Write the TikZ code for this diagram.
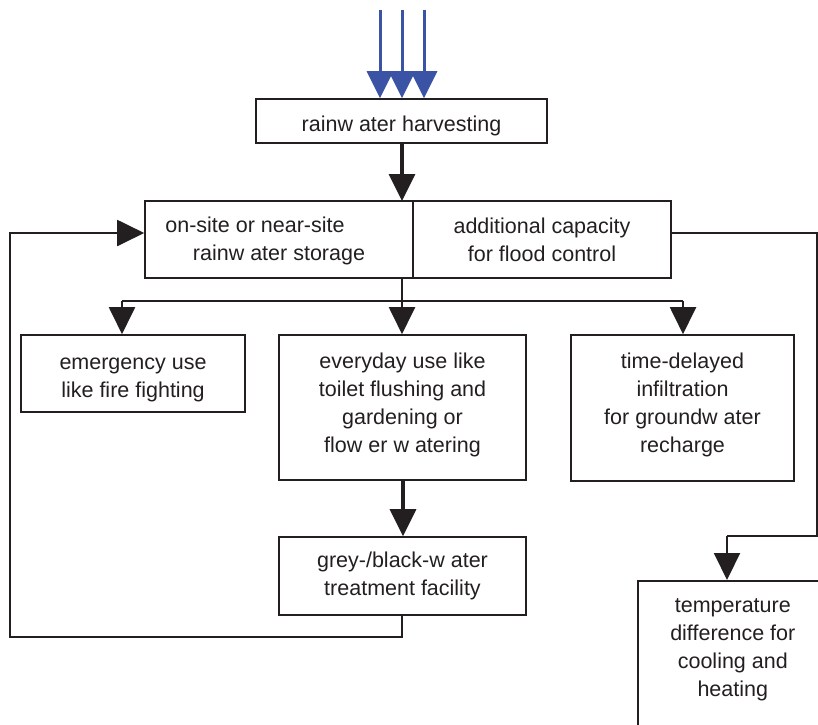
\documentclass[tikz,border=0pt]{standalone}
\usepackage{fontspec}
\setmainfont{Liberation Sans}
\usetikzlibrary{arrows.meta}
\definecolor{ink}{HTML}{231F20}
\definecolor{rainblue}{HTML}{3A53A4}
\newcommand{\uprule}[1]{\rule{0pt}{#1}}
\newcommand{\dnrule}[1]{\rule[-#1]{0pt}{0pt}}
\tikzset{
  box/.style={draw=ink, line width=1.6pt, align=center, text=ink, inner sep=0pt,
    font=\fontsize{21.5}{28}\selectfont},
  tbox/.style={draw=ink, line width=1.6pt, text=ink, inner sep=0pt,
    font=\fontsize{21.5}{28}\selectfont},
  arr/.style={draw=ink, line width=2pt, -{Triangle[length=27pt,width=26pt]}},
  thickarr/.style={draw=ink, line width=3.2pt, -{Triangle[length=27pt,width=26pt]}},
  line/.style={draw=ink, line width=1.6pt},
  rain/.style={draw=rainblue, line width=3pt, -{Triangle[length=27pt,width=26pt]}},
}
\begin{document}
\begin{tikzpicture}[x=1pt,y=-1pt]
\clip (0,0) rectangle (818,724);
\useasboundingbox (0,0) rectangle (818,724);
% boxes
\node[box, minimum width=291pt, minimum height=44pt] (harvest) at (401.5,121) {\uprule{25.5pt}rainw ater harvesting};
\node[box, minimum width=268pt, minimum height=77pt] (storeL) at (279,239.5) {\uprule{18.5pt}on-site or near-site\hspace*{48pt}\\rainw ater storage};
\node[box, minimum width=258pt, minimum height=77pt] (storeR) at (542,239.5) {additional capacity\\for flood control};
\node[box, minimum width=224pt, minimum height=77pt] (emerg) at (133,373.5) {\uprule{24pt}emergency use\\like fire fighting};
\node[box, minimum width=247pt, minimum height=145pt] (everyday) at (402.5,407.5) {everyday use like\\toilet flushing and\\gardening or\\flow er w atering\dnrule{10.5pt}};
\node[box, minimum width=223pt, minimum height=146pt] (timed) at (682.5,408) {time-delayed\\infiltration\\for groundw ater\\recharge\dnrule{11.5pt}};
\node[box, minimum width=247pt, minimum height=78pt] (grey) at (402.5,576) {grey-/black-w ater\\treatment facility};
\node[tbox, anchor=north west] (temp) at (637,580) {\parbox[t][170pt][t]{190pt}{\centering\vspace*{12pt}\strut temperature\\difference for\\cooling and\\heating}};
% rain arrows
\coordinate (r1) at (380,10);
\coordinate (r2) at (402,10);
\coordinate (r3) at (424,10);
\draw[rain] (r1) -- (r1 |- harvest.north);
\draw[rain] (r2) -- (r2 |- harvest.north);
\draw[rain] (r3) -- (r3 |- harvest.north);
% harvest to storage
\draw[thickarr] (harvest.south -| 402,0) -- (402,201);
% branching
\coordinate (bM) at (402,301);
\coordinate (bL) at (122,301);
\coordinate (bR) at (683,301);
\draw[line] (402,278) -- (bM);
\draw[line] (bL) -- (bR);
\draw[arr] (bL) -- (bL |- emerg.north);
\draw[arr] (bM) -- (bM |- everyday.north);
\draw[arr] (bR) -- (bR |- timed.north);
% everyday to grey
\draw[thickarr] (everyday.south -| 403,0) -- (grey.north -| 403,0);
% loop back
\coordinate (loopA) at (402,637);
\coordinate (loopB) at (10,637);
\coordinate (inL) at ([yshift=6.5pt]storeL.west);
\draw[line] (grey.south -| loopA) -- (loopA) -- (loopB) |- ([xshift=-27pt]inL);
\draw[arr] ([xshift=-28pt]inL) -- (inL);
% right branch
\coordinate (outR) at ([yshift=6.5pt]storeR.east);
\coordinate (rc1) at (817,536);
\coordinate (rc2) at (727,536);
\draw[line] (outR) -| (rc1) -- (rc2);
\draw[arr] (rc2) -- (rc2 |- temp.north);
\end{tikzpicture}
\end{document}
